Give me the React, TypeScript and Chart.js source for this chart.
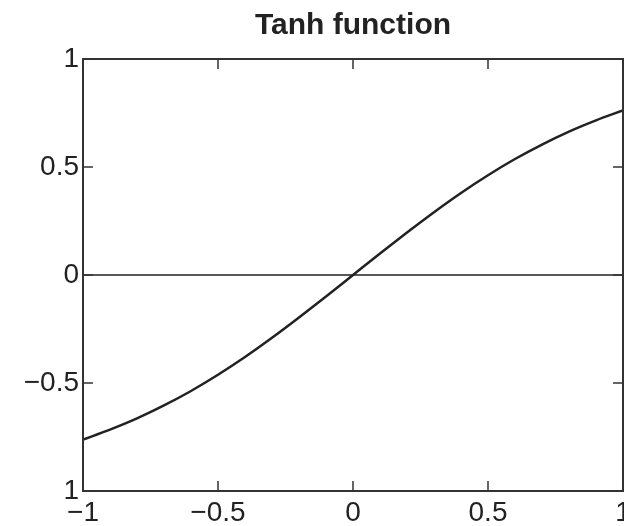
import React, { useEffect, useRef } from "react";
import { Chart, registerables } from "chart.js";

Chart.register(...registerables);

const xValues = [-1, -0.9, -0.8, -0.7, -0.6, -0.5, -0.4, -0.3, -0.2, -0.1, 0, 0.1, 0.2, 0.3, 0.4, 0.5, 0.6, 0.7, 0.8, 0.9, 1];
const yValues = [-0.762, -0.716, -0.664, -0.604, -0.537, -0.462, -0.38, -0.291, -0.197, -0.1, 0, 0.1, 0.197, 0.291, 0.38, 0.462, 0.537, 0.604, 0.664, 0.716, 0.762];
const xTickValues = [-1, -0.5, 0, 0.5, 1];
const xTickLabels = ["\u22121", "\u22120.5", "0", "0.5", "1"];
const yTickValues = [-1, -0.5, 0, 0.5, 1];
const yTickLabels = ["1", "\u22120.5", "0", "0.5", "1"];
const zeroLineX = [-1, 1];
const zeroLineY = [0, 0];
const titleText = "Tanh function";

const FONT = "'Liberation Sans', Arial, Helvetica, sans-serif";
const INK = "#222";

const framePlugin = {
  id: "frameTicks",
  afterDatasetsDraw(chart: any) {
    const { ctx, chartArea } = chart;
    const xs = chart.scales.x;
    const ys = chart.scales.y;
    const { left, right, top, bottom } = chartArea;
    const tl = 10;
    ctx.save();
    ctx.strokeStyle = "#333";
    ctx.lineWidth = 2;
    ctx.beginPath();
    ctx.rect(left, top, right - left, bottom - top);
    ctx.stroke();
    ctx.lineWidth = 1.5;
    ctx.beginPath();
    xTickValues.forEach((v) => {
      const px = xs.getPixelForValue(v);
      ctx.moveTo(px, bottom);
      ctx.lineTo(px, bottom - tl);
      ctx.moveTo(px, top);
      ctx.lineTo(px, top + tl);
    });
    yTickValues.forEach((v) => {
      const py = ys.getPixelForValue(v);
      ctx.moveTo(left, py);
      ctx.lineTo(left + tl, py);
      ctx.moveTo(right, py);
      ctx.lineTo(right - tl, py);
    });
    ctx.stroke();
    ctx.restore();
  },
};

export default function App() {
  const ref = useRef<HTMLCanvasElement | null>(null);
  useEffect(() => {
    if (!ref.current) return;
    const chart = new Chart(ref.current, {
      type: "line",
      data: {
        datasets: [
          {
            data: xValues.map((x, i) => ({ x, y: yValues[i] })),
            borderColor: INK,
            borderWidth: 2.5,
            pointRadius: 0,
            cubicInterpolationMode: "monotone",
            fill: false,
          },
          {
            data: zeroLineX.map((x, i) => ({ x, y: zeroLineY[i] })),
            borderColor: INK,
            borderWidth: 1.5,
            pointRadius: 0,
            fill: false,
          },
        ],
      },
      options: {
        responsive: false,
        animation: false,
        events: [],
        layout: { padding: { left: 0, right: 1, top: 0, bottom: 0 } },
        plugins: {
          legend: { display: false },
          tooltip: { enabled: false },
          title: {
            display: true,
            text: titleText,
            fullSize: false,
            color: INK,
            font: { family: FONT, size: 30, weight: "bold", lineHeight: 1.2 },
            padding: { top: 8, bottom: 15 },
          },
        },
        scales: {
          x: {
            type: "linear",
            min: -1,
            max: 1,
            grid: { display: false, drawTicks: false },
            border: { display: false },
            afterBuildTicks: (scale: any) => {
              scale.ticks = xTickValues.map((v) => ({ value: v }));
            },
            afterFit: (scale: any) => {
              scale.height = 35;
              scale.paddingLeft = 0;
              scale.paddingRight = 0;
            },
            ticks: {
              autoSkip: false,
              maxRotation: 0,
              minRotation: 0,
              padding: 5,
              color: INK,
              font: { family: FONT, size: 28 },
              callback: (v: any) => {
                const i = xTickValues.indexOf(Number(v));
                return i >= 0 ? xTickLabels[i] : "";
              },
            },
          },
          y: {
            type: "linear",
            min: -1,
            max: 1,
            grid: { display: false, drawTicks: false },
            border: { display: false },
            afterBuildTicks: (scale: any) => {
              scale.ticks = yTickValues.map((v) => ({ value: v }));
            },
            afterFit: (scale: any) => {
              scale.width = 83;
              scale.paddingTop = 0;
              scale.paddingBottom = 0;
            },
            ticks: {
              autoSkip: false,
              padding: 4,
              color: INK,
              font: { family: FONT, size: 28 },
              callback: (v: any) => {
                const i = yTickValues.indexOf(Number(v));
                return i >= 0 ? yTickLabels[i] : "";
              },
            },
          },
        },
      },
      plugins: [framePlugin],
    } as any);
    return () => chart.destroy();
  }, []);
  return (
    <div style={{ position: "absolute", left: 0, top: 0, width: 624, height: 526, background: "#fff" }}>
      <canvas ref={ref} width={624} height={526} style={{ display: "block" }} />
    </div>
  );
}
